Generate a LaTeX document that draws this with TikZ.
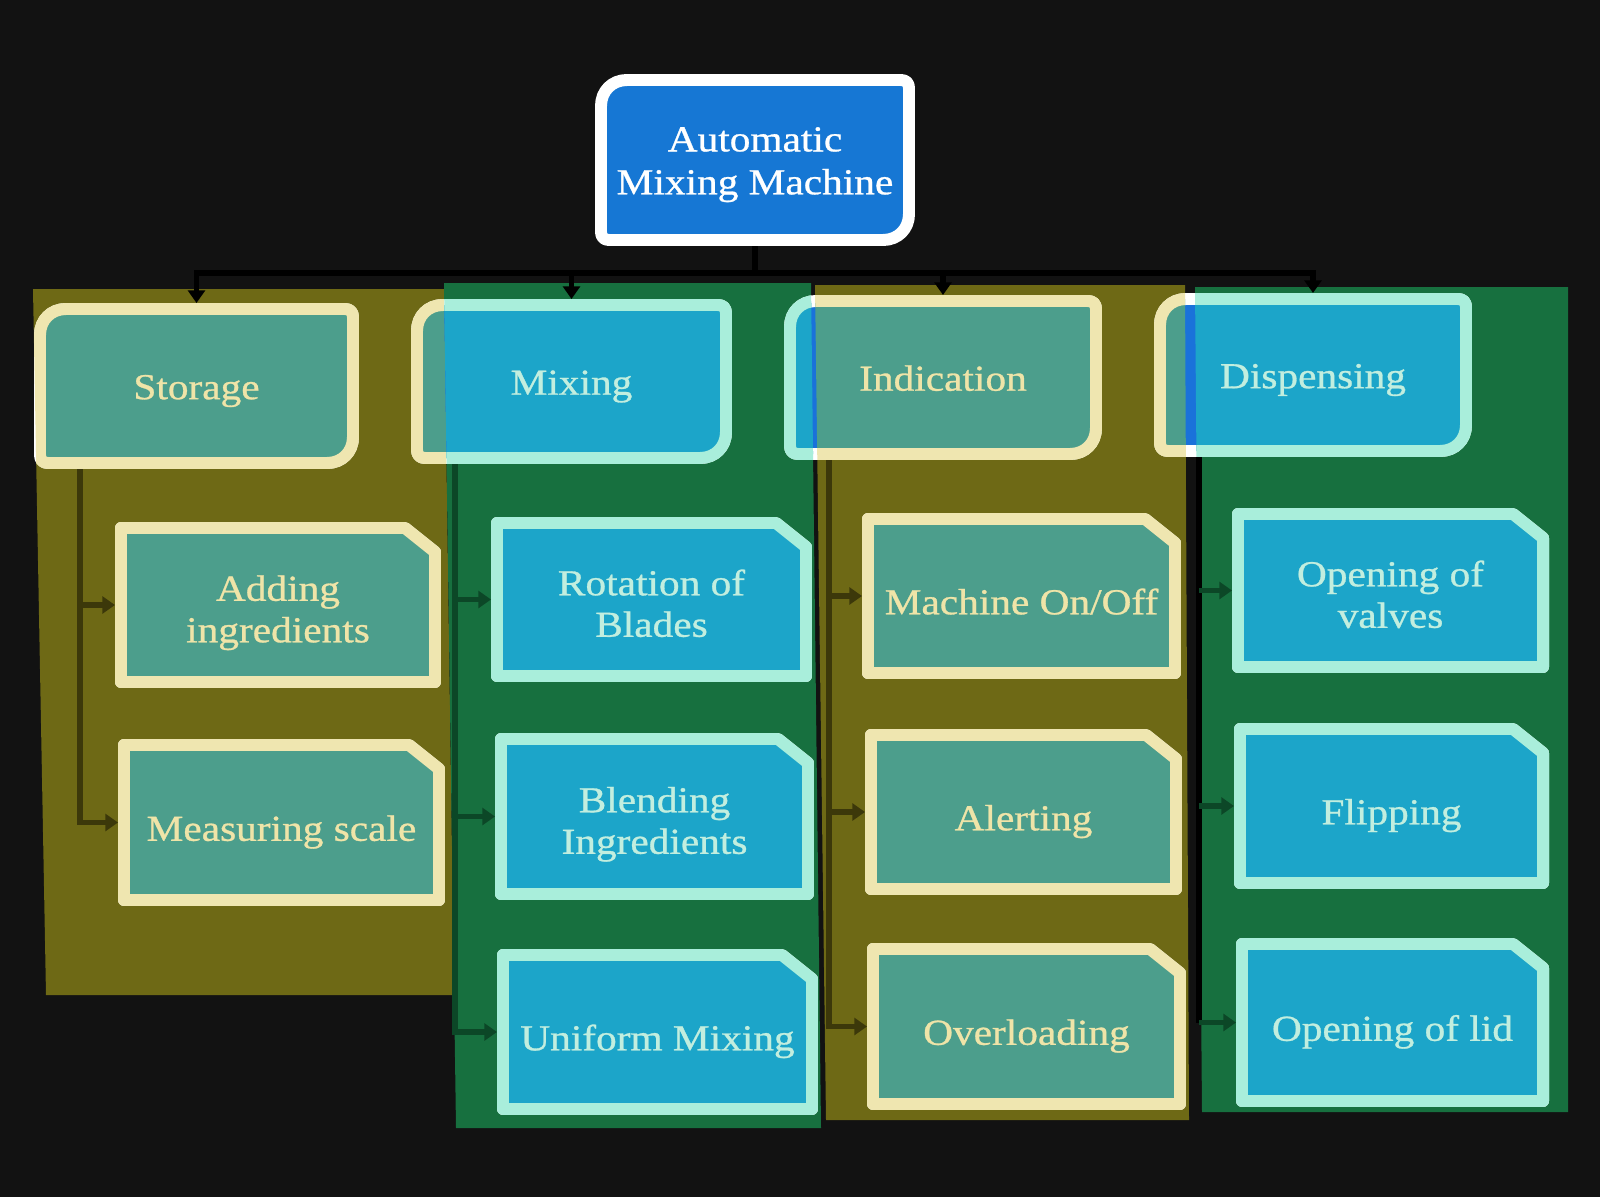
\documentclass[tikz,border=0pt]{standalone}
\usepackage{fontspec}
\setmainfont{Liberation Serif}
\newfontfamily\boxfont{Liberation Serif}[FakeStretch=1.13,FakeBold=0.8]
\usetikzlibrary{arrows.meta}
\definecolor{bgc}{HTML}{121212}
\definecolor{oliveP}{HTML}{6E6915}
\definecolor{greenP}{HTML}{17703F}
\definecolor{tealF}{HTML}{4C9E8C}
\definecolor{creamB}{HTML}{EFE6B0}
\definecolor{creamT}{HTML}{EFE4A8}
\definecolor{cyanF}{HTML}{1CA5C9}
\definecolor{aquaB}{HTML}{A9EEDB}
\definecolor{aquaT}{HTML}{C2EEDF}
\definecolor{titleF}{HTML}{1677D4}
\definecolor{rawF}{HTML}{1A72DA}
\definecolor{darkO}{HTML}{3C380A}
\definecolor{darkG}{HTML}{0C4727}
\pgfdeclarelayer{back}
\pgfdeclarelayer{conn}
\pgfdeclarelayer{shapes}
\pgfsetlayers{back,conn,shapes,main}
\tikzset{
  rawbox/.style={fill=rawF,draw=white,line width=3.4pt},
  titlebox/.style={fill=titleF,draw=white,line width=3.4pt},
  olivebox/.style={fill=tealF,draw=creamB,line width=3.4pt},
  greenbox/.style={fill=cyanF,draw=aquaB,line width=3.4pt},
  lbl/.style 2 args={inner sep=0pt,outer sep=0pt,minimum width=#1*0.01cm,
    minimum height=#2*0.01cm,align=center,
    font=\boxfont\fontsize{10.4}{11.8}\selectfont,
    execute at end node={\rule[-2.5pt]{0pt}{0pt}}},
  topstrut/.style={execute at begin node={\rule{0pt}{#1}}},
  one/.style={topstrut=12.9pt},
  upper/.style={topstrut=10.0pt},
  two/.style={topstrut=23.7pt},
  ttl/.style={topstrut=22.0pt,font=\boxfont\fontsize{10.4}{12.2}\selectfont},
  tip/.style={-{Triangle[length=3.6pt,width=4.8pt]}},
  busline/.style={tip,draw=black,line width=1.6pt},
  arrO/.style={tip,draw=darkO,line width=1.5pt},
  arrG/.style={tip,draw=darkG,line width=1.5pt},
  spineK/.style={draw=black,line width=1.5pt}
}
% round diagonal corner rectangle: outer x1 y1 x2 y2 (y downwards), style
\newcommand{\rdshape}[5]{%
  \path[#5,line join=round] ({#1+6},{#2+32}) .. controls ({#1+6},{#2+17}) and ({#1+17},{#2+6}) .. ({#1+32},{#2+6})
   -- ({#3-14},{#2+6}) .. controls ({#3-9},{#2+6}) and ({#3-6},{#2+9}) .. ({#3-6},{#2+14})
   -- ({#3-6},{#4-32}) .. controls ({#3-6},{#4-17}) and ({#3-17},{#4-6}) .. ({#3-32},{#4-6})
   -- ({#1+14},{#4-6}) .. controls ({#1+9},{#4-6}) and ({#1+6},{#4-9}) .. ({#1+6},{#4-14}) -- cycle;}
% snip single corner rectangle (top right)
\newcommand{\snipshape}[5]{%
  \path[#5,line join=round] ({#1+6},{#2+6}) -- ({#3-36},{#2+6}) -- ({#3-6},{#2+30})
   -- ({#3-6},{#4-6}) -- ({#1+6},{#4-6}) -- cycle;}
\newcommand{\clipOlive}{\clip (33,289) -- (444,289) -- (454,995) -- (46,995) -- cycle
   (815,285) -- (1185,285) -- (1189,1120) -- (826,1120) -- cycle;}
\newcommand{\clipGreen}{\clip (444,283) -- (811,283) -- (821,1128) -- (456,1128) -- cycle
   (1195,287) -- (1568,287) -- (1568,1112) -- (1202,1112) -- cycle;}
\newcommand{\layered}[5]{%
  #1{#2}{#3}{#4}{#5}{rawbox}%
  \begin{scope}\clipOlive #1{#2}{#3}{#4}{#5}{olivebox}\end{scope}%
  \begin{scope}\clipGreen #1{#2}{#3}{#4}{#5}{greenbox}\end{scope}}
\begin{document}
\begin{tikzpicture}[x=0.01cm,y=-0.01cm]
\useasboundingbox (0,0) rectangle (1600,1197);
\begin{pgfonlayer}{back}
  \fill[bgc] (0,0) rectangle (1600,1197);
  \fill[oliveP] (33,289) -- (444,289) -- (454,995) -- (46,995) -- cycle;
  \fill[oliveP] (815,285) -- (1185,285) -- (1189,1120) -- (826,1120) -- cycle;
  \fill[greenP] (444,283) -- (811,283) -- (821,1128) -- (456,1128) -- cycle;
  \fill[greenP] (1195,287) -- (1568,287) -- (1568,1112) -- (1202,1112) -- cycle;
\end{pgfonlayer}

% text nodes
\node[lbl={320}{172},ttl,text=white] (title) at (755,160) {Automatic\\Mixing Machine};
\node[lbl={325}{166},upper,text=creamT] (st) at (196.5,386) {Storage};
\node[lbl={321}{165},upper,text=aquaT] (mx) at (571.5,381.5) {Mixing};
\node[lbl={318}{165},upper,text=creamT] (ind) at (943,377.5) {Indication};
\node[lbl={318}{164},upper,text=aquaT] (dsp) at (1313,375) {Dispensing};

\node[lbl={326}{166},two,text=creamT] (a1) at (278,605) {Adding\\ingredients};
\node[lbl={327}{167},one,text=creamT] (a2) at (281.5,822.5) {Measuring scale};

\node[lbl={321}{165},two,text=aquaT] (b1) at (651.5,599.5) {Rotation of\\Blades};
\node[lbl={319}{167},two,text=aquaT] (b2) at (654.5,816.5) {Blending\\Ingredients};
\node[lbl={321}{166},one,text=aquaT] (b3) at (657.5,1032) {Uniform Mixing};

\node[lbl={319}{166},one,text=creamT] (c1) at (1021.5,596) {Machine On/Off};
\node[lbl={317}{166},one,text=creamT] (c2) at (1023.5,812) {Alerting};
\node[lbl={319}{167},one,text=creamT] (c3) at (1026.5,1026.5) {Overloading};

\node[lbl={317}{165},two,text=aquaT] (d1) at (1390.5,590.5) {Opening of\\valves};
\node[lbl={315}{166},one,text=aquaT] (d2) at (1391.5,806) {Flipping};
\node[lbl={313}{169},one,text=aquaT] (d3) at (1392.5,1022.5) {Opening of lid};

\coordinate (s1) at (80,469);
\coordinate (s2) at (455,464);
\coordinate (s3) at (829,460);
\coordinate (s4) at (1199,457);

\begin{pgfonlayer}{conn}
  \draw[busline] (title.south) -- ++(0,27) -| (st.north);
  \draw[busline] (title.south) -- ++(0,27) -| (mx.north);
  \draw[busline] (title.south) -- ++(0,27) -| (ind.north);
  \draw[busline] (title.south) -- ++(0,27) -| (dsp.north);
  \draw[arrO] (s1) |- (a1.west);
  \draw[arrO] (s1) |- (a2.west);
  \draw[arrG] (s2) |- (b1.west);
  \draw[arrG] (s2) |- (b2.west);
  \draw[arrG] (s2) |- (b3.west);
  \draw[arrO] (s3) |- (c1.west);
  \draw[arrO] (s3) |- (c2.west);
  \draw[arrO] (s3) |- (c3.west);
  \draw[spineK] (s4) -- (s4 |- d3.west);
  \draw[arrG] (s4 |- d1.west) -- (d1.west);
  \draw[arrG] (s4 |- d2.west) -- (d2.west);
  \draw[arrG] (s4 |- d3.west) -- (d3.west);
\end{pgfonlayer}

\begin{pgfonlayer}{shapes}
  \rdshape{595}{74}{915}{246}{titlebox}
  \layered\rdshape{34}{303}{359}{469}
  \layered\rdshape{411}{299}{732}{464}
  \layered\rdshape{784}{295}{1102}{460}
  \layered\rdshape{1154}{293}{1472}{457}
  \layered\snipshape{115}{522}{441}{688}
  \layered\snipshape{118}{739}{445}{906}
  \layered\snipshape{491}{517}{812}{682}
  \layered\snipshape{495}{733}{814}{900}
  \layered\snipshape{497}{949}{818}{1115}
  \layered\snipshape{862}{513}{1181}{679}
  \layered\snipshape{865}{729}{1182}{895}
  \layered\snipshape{867}{943}{1186}{1110}
  \layered\snipshape{1232}{508}{1549}{673}
  \layered\snipshape{1234}{723}{1549}{889}
  \layered\snipshape{1236}{938}{1549}{1107}
\end{pgfonlayer}
\end{tikzpicture}
\end{document}
